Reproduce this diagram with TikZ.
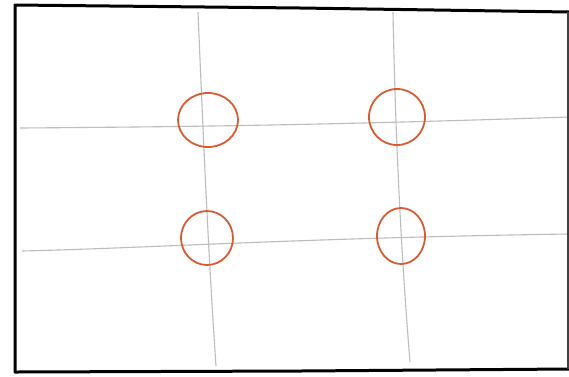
\documentclass[tikz,border=0pt]{standalone}
\usepackage{xcolor}
\usepackage{tikz}

\definecolor{sketchorange}{RGB}{214,92,52}
\definecolor{guidegray}{RGB}{188,188,192}

\begin{document}
\begin{tikzpicture}[
  x=1pt, y=-1pt,
  frame/.style={draw=black, line width=3pt, line cap=round, line join=round},
  guide/.style={draw=guidegray, line width=1.1pt},
  spot/.style={draw=sketchorange, line width=1.8pt}
]
\useasboundingbox[fill=white] (0,0) rectangle (569,376);

% thirds
\draw[guide] (198,12) .. controls (203,130) and (208,250) .. (216,366);
\draw[guide] (393,12) .. controls (395,120) and (400,240) .. (410,362);
\draw[guide] (20,128) .. controls (150,127) and (300,126) .. (569,117);
\draw[guide] (22,251) .. controls (150,248) and (300,238) .. (569,234);

% intersections
\draw[spot] (208,120) ellipse [x radius=30, y radius=27];
\draw[spot] (397,117) ellipse [x radius=28, y radius=28];
\draw[spot] (207,238) ellipse [x radius=26, y radius=27];
\draw[spot] (401,236) ellipse [x radius=24, y radius=28];

% frame
\draw[frame] (569,12) -- (300,8) -- (15,5) -- (15,372) -- (300,371) -- (569,369);
\draw[draw=black!75, line width=1.2pt] (568,12) -- (568,369);
\end{tikzpicture}
\end{document}
